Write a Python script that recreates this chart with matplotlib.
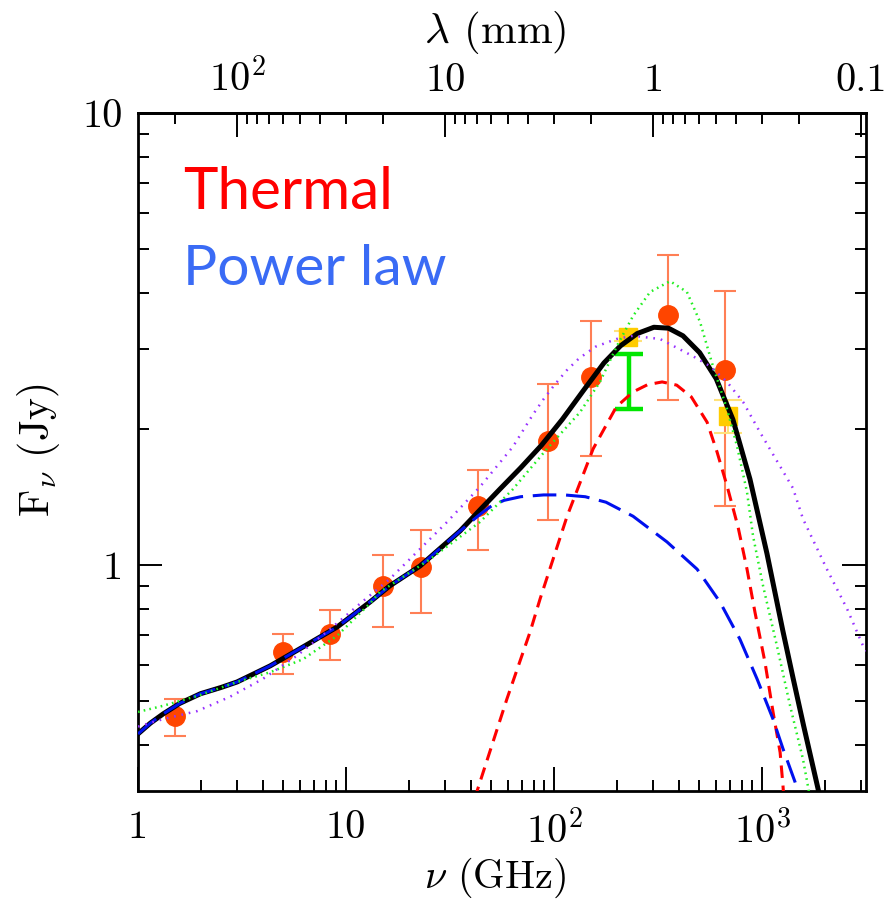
import numpy as np
import matplotlib.pyplot as plt
from matplotlib.ticker import LogLocator, NullFormatter, FixedLocator

plt.rcParams['font.family'] = 'serif'
plt.rcParams['font.serif'] = ['cmr10']
plt.rcParams['mathtext.fontset'] = 'cm'
plt.rcParams['axes.unicode_minus'] = False
plt.rcParams['lines.scale_dashes'] = False

# Observed fluxes (GHz, Jy) with error bar ends
nu_obs = [1.5, 5.0, 8.4, 15, 23, 43, 94, 150, 355, 665]
f_obs = [0.464, 0.642, 0.705, 0.897, 0.99, 1.35, 1.88, 2.60, 3.58, 2.70]
f_lo = [0.419, 0.575, 0.617, 0.730, 0.784, 1.08, 1.257, 1.74, 2.32, 1.35]
f_hi = [0.506, 0.705, 0.796, 1.05, 1.195, 1.62, 2.51, 3.46, 4.84, 4.03]

# Yellow squares
nu_sq = [228, 688]
f_sq = [3.20, 2.14]
f_sq_lo = [3.13, 1.96]
f_sq_hi = [3.29, 2.32]

# Green bar
nu_bar = [229]
f_bar_lo = [2.21]
f_bar_hi = [2.93]

# Total model (black)
nu_total = [1.0, 1.148, 1.318, 1.585, 1.995, 2.512, 2.992, 4.315, 6.223, 9.057,
            13.03, 16.22, 22.70, 35.32, 44.06, 54.95, 69.18, 87.10, 109.6, 138.0,
            173.8, 208.9, 251.2, 302.0, 354.8, 416.9, 501.2, 602.6, 724.4, 875.0,
            1057, 1259, 1413, 1585, 1862, 1995]
f_total = [0.423, 0.447, 0.468, 0.494, 0.519, 0.536, 0.551, 0.598, 0.659, 0.729,
           0.828, 0.899, 0.995, 1.189, 1.324, 1.472, 1.641, 1.841, 2.099, 2.427,
           2.799, 3.055, 3.251, 3.357, 3.342, 3.214, 2.951, 2.582, 2.099, 1.549,
           1.059, 0.716, 0.560, 0.441, 0.319, 0.275]

# Power law component (blue)
nu_pl = [1.0, 1.148, 1.318, 1.585, 1.995, 2.512, 2.992, 4.315, 6.223, 9.057,
         13.03, 16.22, 22.70, 35.32, 44.06, 50.12, 57.54, 69.18, 89.13, 112.2,
         141.3, 177.8, 239.9, 349.1, 487.5, 628.1, 783.4, 946.2, 1130, 1262,
         1442, 1549]
f_pl = [0.423, 0.447, 0.468, 0.494, 0.519, 0.536, 0.551, 0.598, 0.659, 0.729,
        0.828, 0.899, 0.995, 1.189, 1.294, 1.352, 1.390, 1.416, 1.429, 1.429,
        1.416, 1.377, 1.282, 1.125, 0.979, 0.828, 0.685, 0.560, 0.456, 0.392,
        0.331, 0.295]

# Thermal component (red)
nu_th = [39.8, 42.66, 59.43, 76.74, 85.70, 115.6, 154.2, 199.5, 239.9, 281.8,
         331.1, 389.0, 457.1, 544.5, 608.1, 679.2, 767.4, 847.2, 924.7, 1033,
         1130, 1222, 1262, 1288]
f_th = [0.275, 0.316, 0.506, 0.711, 0.841, 1.282, 1.807, 2.239, 2.415, 2.506,
        2.541, 2.500, 2.355, 2.070, 1.778, 1.496, 1.213, 0.979, 0.787, 0.610,
        0.473, 0.385, 0.324, 0.282]

# Alternative fit (green dotted)
nu_g = [1.0, 1.318, 1.923, 2.992, 4.315, 6.223, 9.057, 13.03, 14.55, 25.35,
        44.06, 63.53, 92.47, 133.4, 166.3, 200.9, 239.9, 289.7, 361.4, 435.5,
        503.5, 580.8, 679.2, 758.6, 847.2, 905.7, 1012, 1180, 1365, 1574, 1663, 1738]
f_g = [0.473, 0.488, 0.513, 0.551, 0.579, 0.619, 0.697, 0.822, 0.871, 1.030,
       1.245, 1.472, 1.807, 2.178, 2.541, 3.055, 3.556, 4.018, 4.246, 4.018,
       3.451, 2.754, 2.213, 1.832, 1.449, 1.159, 0.899, 0.662, 0.488, 0.372, 0.324, 0.288]

# Alternative fit (purple dotted)
nu_p = [1.0, 1.318, 1.923, 2.767, 3.990, 5.808, 8.375, 12.08, 16.22, 20.99,
        30.62, 44.06, 63.53, 79.25, 89.13, 100.0, 114.8, 131.8, 158.5, 199.5,
        239.9, 323.6, 465.6, 562.3, 679.2, 812.8, 977.2, 1409, 1574, 2051,
        2564, 3062, 3311]
f_p = [0.439, 0.456, 0.475, 0.511, 0.560, 0.630, 0.721, 0.832, 0.931, 1.047,
       1.245, 1.489, 1.828, 2.153, 2.328, 2.495, 2.692, 2.864, 3.041, 3.162,
       3.214, 3.162, 2.897, 2.754, 2.541, 2.291, 1.968, 1.479, 1.265, 0.979,
       0.800, 0.662, 0.630]


def nu2lam(x):
    x = np.asarray(x, dtype=float)
    with np.errstate(divide='ignore'):
        return 299.792458 / x


fig = plt.figure(figsize=(8.94, 9.0), dpi=100)
ax = fig.add_axes([138 / 894, 1 - 791 / 900, 728 / 894, 678 / 900])
ax.set_xscale('log')
ax.set_yscale('log')

f_obs_a = np.array(f_obs)
ax.errorbar(nu_obs, f_obs, yerr=[f_obs_a - np.array(f_lo), np.array(f_hi) - f_obs_a],
            fmt='o', color='#ff4500', ecolor='#ff7f55', markersize=14,
            elinewidth=1.5, capsize=8, capthick=1.5, zorder=2)
f_sq_a = np.array(f_sq)
ax.errorbar(nu_sq, f_sq, yerr=[f_sq_a - np.array(f_sq_lo), np.array(f_sq_hi) - f_sq_a],
            fmt='s', color='#ffcc00', ecolor='#ffe27a', markersize=13,
            elinewidth=1.5, capsize=10, capthick=1.5, zorder=2)
mid = np.sqrt(np.array(f_bar_lo) * np.array(f_bar_hi))
ax.errorbar(nu_bar, mid, yerr=[mid - np.array(f_bar_lo), np.array(f_bar_hi) - mid],
            fmt='none', ecolor='#00e600', elinewidth=3.2, capsize=10, capthick=3.2, zorder=2)

ax.plot(nu_th, f_th, color='#ff0000', lw=2.2, dashes=(9, 5.5), zorder=3)
ax.plot(nu_total, f_total, color='black', lw=3.6, zorder=4)
ax.plot(nu_pl, f_pl, color='#0010ee', lw=2.2, dashes=(17, 7), zorder=5)
ax.plot(nu_g, f_g, color='#22ee22', lw=1.8, dashes=(1.2, 3.0), zorder=6)
ax.plot(nu_p, f_p, color='#9933ff', lw=1.8, dashes=(1.2, 4.2), zorder=6)

ax.set_xlim(1, 10 ** 3.5)
ax.set_ylim(10 ** -0.5, 10)

ax.xaxis.set_major_locator(FixedLocator([1, 10, 100, 1000]))
ax.set_xticklabels(['1', '10', r'$10^2$', r'$10^3$'])
ax.xaxis.set_minor_locator(LogLocator(base=10, subs=np.arange(2, 10)))
ax.xaxis.set_minor_formatter(NullFormatter())
ax.yaxis.set_major_locator(FixedLocator([1, 10]))
ax.set_yticklabels(['1', '10'])
ax.yaxis.set_minor_locator(LogLocator(base=10, subs=np.arange(2, 10)))
ax.yaxis.set_minor_formatter(NullFormatter())

ax.tick_params(which='both', direction='in', top=False, right=True, width=1.4)
ax.tick_params(which='major', length=17, labelsize=29)
ax.tick_params(which='minor', length=8)
ax.tick_params(axis='x', which='major', pad=14)
ax.tick_params(axis='y', which='major', pad=11)
for s in ax.spines.values():
    s.set_linewidth(2)

secax = ax.secondary_xaxis('top', functions=(nu2lam, nu2lam))
secax.set_xticks([100, 10, 1, 0.1])
secax.set_xticklabels([r'$10^2$', '10', '1', '0.1'])
secax.xaxis.set_minor_locator(LogLocator(base=10, subs=np.arange(2, 10)))
secax.xaxis.set_minor_formatter(NullFormatter())
secax.tick_params(which='both', direction='in', width=1.4)
secax.tick_params(which='major', length=17, labelsize=29, pad=10)
secax.tick_params(which='minor', length=8)
secax.spines['top'].set_linewidth(2)

fig.text(495 / 894, 1 - 32 / 900, r'$\lambda$ (mm)', fontsize=31, ha='center', va='center')
fig.text(495 / 894, 1 - 888 / 900, r'$\nu$ (GHz)', fontsize=29, ha='center', va='baseline')
fig.text(38 / 894, 1 - 450 / 900, r'F$_\nu$ (Jy)', fontsize=30, ha='center', va='center',
         rotation=90)

fig.text(183 / 894, 1 - 209 / 900, 'Thermal', fontsize=42, family='Lato',
         color='#ff0000', va='baseline')
fig.text(183 / 894, 1 - 285 / 900, 'Power law', fontsize=41, family='Lato',
         color='#3a6bf5', va='baseline')

fig.savefig('out.png', dpi=100)
